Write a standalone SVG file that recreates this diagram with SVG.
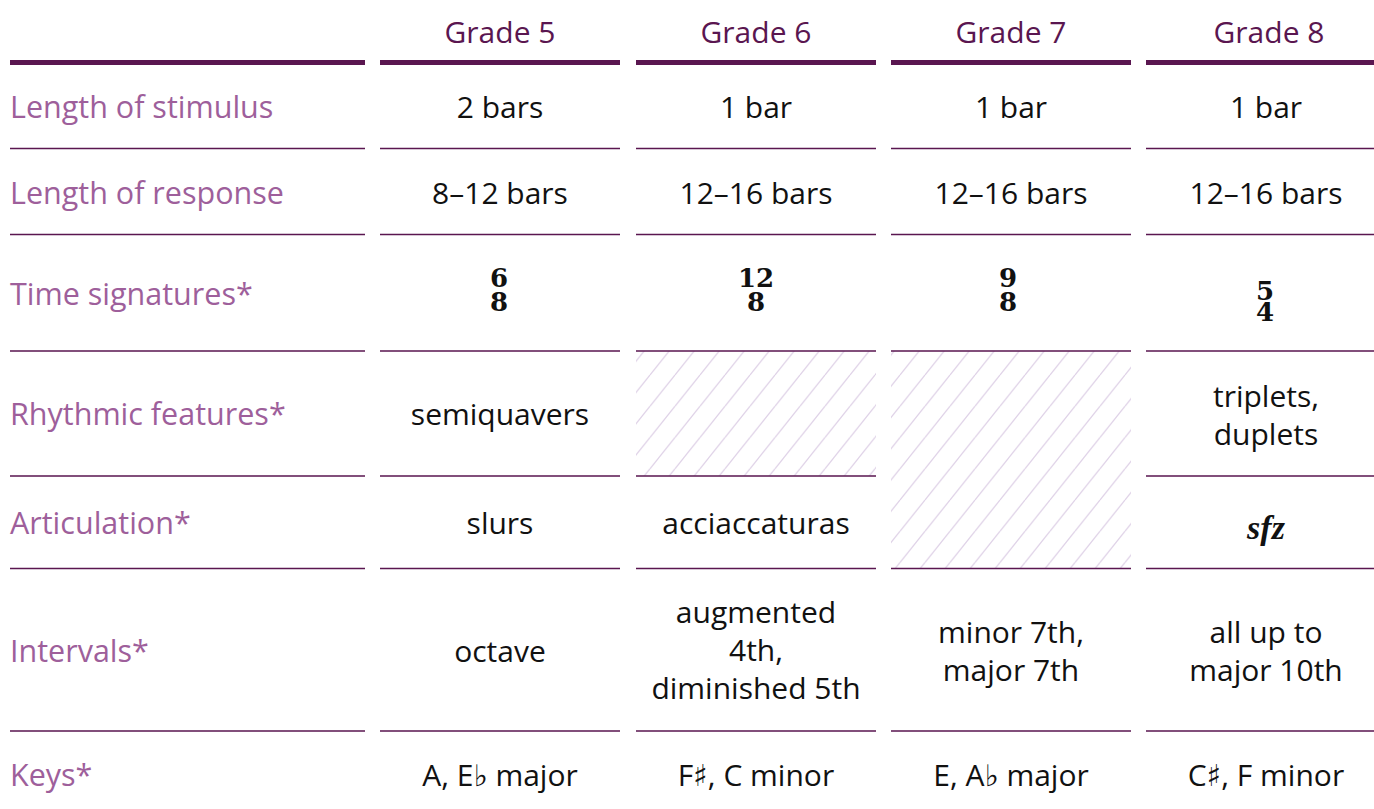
<svg xmlns="http://www.w3.org/2000/svg" width="1374" height="809" viewBox="0 0 1374 809">
<defs>
<style>
.hd{font-family:"Open Sans","Noto Sans",sans-serif;font-size:30px;fill:#5a1650;text-anchor:middle;font-weight:500}
.lb{font-family:"Open Sans","Noto Sans",sans-serif;font-size:30.5px;fill:#9e5f9b;font-weight:500}
.tx{font-family:"Open Sans","Noto Sans","DejaVu Sans",sans-serif;font-size:30px;fill:#111;text-anchor:middle}
.ts{font-family:"DejaVu Serif","Liberation Serif",serif;font-size:26px;font-weight:bold;fill:#111;text-anchor:middle}
.sfz{font-family:"Liberation Serif",serif;font-size:34px;font-weight:bold;font-style:italic;fill:#111;text-anchor:middle}
.thick{fill:#5a1650}
.thin{stroke:#5a1650;stroke-width:1.5;fill:none}
.hatch{stroke:#dfd2e7;stroke-width:1.3}
</style>
<pattern id="hp" patternUnits="userSpaceOnUse" width="25" height="31.25">
<line class="hatch" x1="0" y1="31.25" x2="25" y2="0"/>
<line class="hatch" x1="-25" y1="31.25" x2="0" y2="0"/>
<line class="hatch" x1="25" y1="31.25" x2="50" y2="0"/>
</pattern>
</defs>
<rect width="1374" height="809" fill="#fff"/>

<g id="hatching">
<rect x="636" y="351" width="240" height="125" fill="url(#hp)"/>
<rect x="891" y="351" width="240" height="217" fill="url(#hp)"/>
</g>

<g id="rules">
<rect class="thick" x="10" y="60" width="355" height="5"/>
<rect class="thick" x="380" y="60" width="240" height="5"/>
<rect class="thick" x="636" y="60" width="240" height="5"/>
<rect class="thick" x="891" y="60" width="240" height="5"/>
<rect class="thick" x="1146" y="60" width="228" height="5"/>
<path class="thin" d="M10 148.5H365M380 148.5H620M636 148.5H876M891 148.5H1131M1146 148.5H1374"/>
<path class="thin" d="M10 234.5H365M380 234.5H620M636 234.5H876M891 234.5H1131M1146 234.5H1374"/>
<path class="thin" d="M10 351H365M380 351H620M636 351H876M891 351H1131M1146 351H1374"/>
<path class="thin" d="M10 476H365M380 476H620M636 476H876M1146 476H1374"/>
<path class="thin" d="M10 568.5H365M380 568.5H620M636 568.5H876M891 568.5H1131M1146 568.5H1374"/>
<path class="thin" d="M10 731H365M380 731H620M636 731H876M891 731H1131M1146 731H1374"/>
</g>

<g id="header">
<text class="hd" x="500" y="43">Grade 5</text>
<text class="hd" x="756" y="43">Grade 6</text>
<text class="hd" x="1011" y="43">Grade 7</text>
<text class="hd" x="1269" y="43">Grade 8</text>
</g>

<g id="labels">
<text class="lb" x="10" y="118">Length of stimulus</text>
<text class="lb" x="10" y="204">Length of response</text>
<text class="lb" x="10" y="305">Time signatures*</text>
<text class="lb" x="10" y="425">Rhythmic features*</text>
<text class="lb" x="10" y="534">Articulation*</text>
<text class="lb" x="10" y="662">Intervals*</text>
<text class="lb" x="10" y="786">Keys*</text>
</g>

<g id="row-stimulus">
<text class="tx" x="500" y="118">2 bars</text>
<text class="tx" x="756" y="118">1 bar</text>
<text class="tx" x="1011" y="118">1 bar</text>
<text class="tx" x="1266" y="118">1 bar</text>
</g>

<g id="row-response">
<text class="tx" x="500" y="204">8–12 bars</text>
<text class="tx" x="756" y="204">12–16 bars</text>
<text class="tx" x="1011" y="204">12–16 bars</text>
<text class="tx" x="1266" y="204">12–16 bars</text>
</g>

<g id="row-time">
<text class="ts"><tspan x="499" y="287">6</tspan><tspan x="499" y="311">8</tspan></text>
<text class="ts"><tspan x="756" y="287">12</tspan><tspan x="756" y="311">8</tspan></text>
<text class="ts"><tspan x="1008" y="287">9</tspan><tspan x="1008" y="311">8</tspan></text>
<text class="ts"><tspan x="1265" y="300">5</tspan><tspan x="1265" y="321">4</tspan></text>
</g>

<g id="row-rhythm">
<text class="tx" x="500" y="425">semiquavers</text>
<text class="tx" x="1266" y="407">triplets,</text>
<text class="tx" x="1266" y="445">duplets</text>
</g>

<g id="row-articulation">
<text class="tx" x="500" y="534">slurs</text>
<text class="tx" x="756" y="534">acciaccaturas</text>
<text class="sfz" x="1266" y="539">sfz</text>
</g>

<g id="row-intervals">
<text class="tx" x="500" y="662">octave</text>
<text class="tx" x="756" y="623">augmented</text>
<text class="tx" x="756" y="661">4th,</text>
<text class="tx" x="756" y="699">diminished 5th</text>
<text class="tx" x="1011" y="643">minor 7th,</text>
<text class="tx" x="1011" y="681">major 7th</text>
<text class="tx" x="1266" y="643">all up to</text>
<text class="tx" x="1266" y="681">major 10th</text>
</g>

<g id="row-keys">
<text class="tx" x="500" y="786">A, E♭ major</text>
<text class="tx" x="756" y="786">F♯, C minor</text>
<text class="tx" x="1011" y="786">E, A♭ major</text>
<text class="tx" x="1266" y="786">C♯, F minor</text>
</g>
</svg>
